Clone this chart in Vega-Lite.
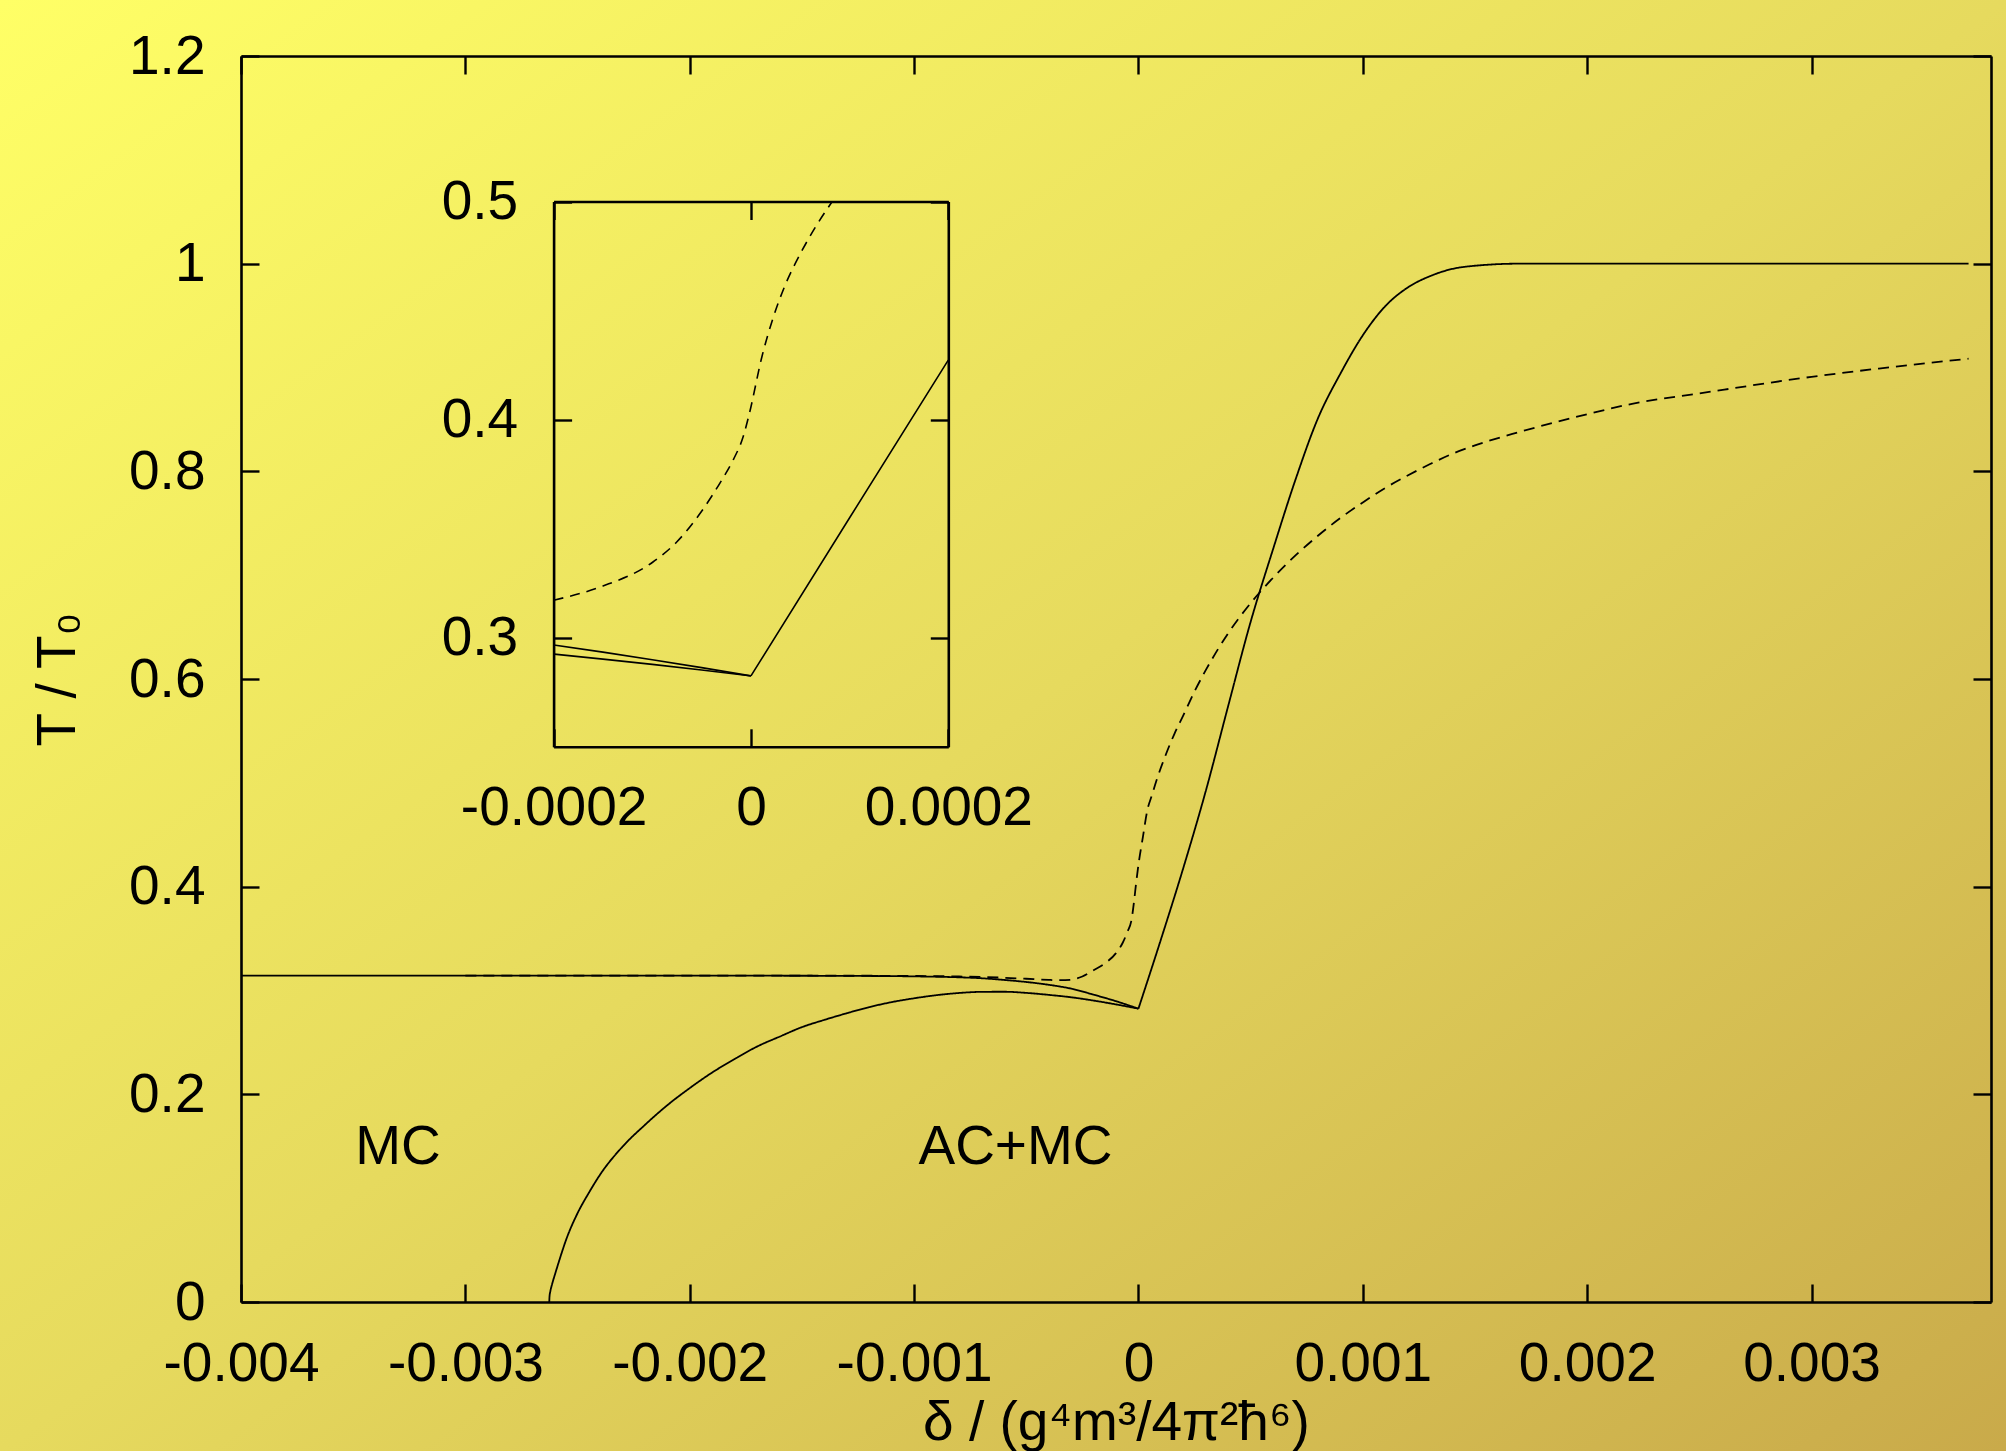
{
  "$schema": "https://vega.github.io/schema/vega-lite/v6.json",
  "width": 2006,
  "height": 1451,
  "padding": 0,
  "autosize": {"type": "none"},
  "background": "#E6DA5E",
  "config": {
    "view": {
      "stroke": null,
      "fill": {"gradient": "linear", "x1": 0, "y1": 0, "x2": 1, "y2": 1,
        "stops": [{"offset": 0, "color": "#FFFF66"}, {"offset": 0.5, "color": "#E6DA5E"}, {"offset": 1, "color": "#C9AA4A"}]}
    },
    "font": "Liberation Sans",
    "axis": {
      "grid": false,
      "domainColor": "black", "domainWidth": 2.6,
      "tickColor": "black", "tickWidth": 2.4, "tickSize": -18,
      "labelFont": "Liberation Sans", "labelFontSize": 55, "labelColor": "black",
      "labelFlush": false, "labelOverlap": false, "labelBound": false, "labelLimit": 0,
      "titleFont": "Liberation Sans", "titleFontSize": 55, "titleFontWeight": "normal", "titleColor": "black"
    },
    "axisX": {"labelPadding": 53},
    "axisY": {"labelPadding": 54}
  },
  "datasets": {
    "main": [
      {"s": "a1", "x": -0.004, "y": 0.3143}, {"s": "a1", "x": -0.003, "y": 0.3143}, {"s": "a1", "x": -0.002, "y": 0.3143},
      {"s": "a1", "x": -0.0015, "y": 0.3142}, {"s": "a1", "x": -0.0012, "y": 0.314}, {"s": "a1", "x": -0.001, "y": 0.3136},
      {"s": "a1", "x": -0.0008, "y": 0.3127}, {"s": "a1", "x": -0.0007, "y": 0.3118}, {"s": "a1", "x": -0.0006, "y": 0.3102},
      {"s": "a1", "x": -0.0005, "y": 0.3082}, {"s": "a1", "x": -0.0004, "y": 0.3055}, {"s": "a1", "x": -0.0003, "y": 0.3018},
      {"s": "a1", "x": -0.0002, "y": 0.296}, {"s": "a1", "x": -0.0001, "y": 0.2897}, {"s": "a1", "x": 0, "y": 0.2825},
      {"s": "a2", "x": 0, "y": 0.2825},
      {"s": "a2", "x": 0.0001, "y": 0.349}, {"s": "a2", "x": 0.0002, "y": 0.418}, {"s": "a2", "x": 0.0003, "y": 0.492},
      {"s": "a2", "x": 0.0004, "y": 0.574}, {"s": "a2", "x": 0.0005, "y": 0.655}, {"s": "a2", "x": 0.0006, "y": 0.725},
      {"s": "a2", "x": 0.0007, "y": 0.792}, {"s": "a2", "x": 0.0008, "y": 0.851}, {"s": "a2", "x": 0.0009, "y": 0.894},
      {"s": "a2", "x": 0.001, "y": 0.931}, {"s": "a2", "x": 0.0011, "y": 0.959}, {"s": "a2", "x": 0.0012, "y": 0.977},
      {"s": "a2", "x": 0.0013, "y": 0.988}, {"s": "a2", "x": 0.0014, "y": 0.995}, {"s": "a2", "x": 0.0015, "y": 0.998},
      {"s": "a2", "x": 0.0017, "y": 1.0}, {"s": "a2", "x": 0.0025, "y": 1.0}, {"s": "a2", "x": 0.0037, "y": 1.0},

      {"s": "b", "x": -0.002626, "y": 0}, {"s": "b", "x": -0.002625, "y": 0.005}, {"s": "b", "x": -0.002621, "y": 0.0105},
      {"s": "b", "x": -0.002613, "y": 0.0175}, {"s": "b", "x": -0.0026, "y": 0.027}, {"s": "b", "x": -0.00258, "y": 0.041},
      {"s": "b", "x": -0.00255, "y": 0.0605}, {"s": "b", "x": -0.0025, "y": 0.0855}, {"s": "b", "x": -0.00245, "y": 0.105},
      {"s": "b", "x": -0.0024, "y": 0.1225}, {"s": "b", "x": -0.0023, "y": 0.1495}, {"s": "b", "x": -0.0022, "y": 0.1705},
      {"s": "b", "x": -0.0021, "y": 0.1895}, {"s": "b", "x": -0.002, "y": 0.206}, {"s": "b", "x": -0.0019, "y": 0.221},
      {"s": "b", "x": -0.0018, "y": 0.234}, {"s": "b", "x": -0.0017, "y": 0.246}, {"s": "b", "x": -0.0016, "y": 0.2555},
      {"s": "b", "x": -0.0015, "y": 0.2647}, {"s": "b", "x": -0.0014, "y": 0.2717}, {"s": "b", "x": -0.0013, "y": 0.2781},
      {"s": "b", "x": -0.0012, "y": 0.284}, {"s": "b", "x": -0.0011, "y": 0.2888}, {"s": "b", "x": -0.001, "y": 0.2925},
      {"s": "b", "x": -0.0009, "y": 0.2955}, {"s": "b", "x": -0.0008, "y": 0.2976}, {"s": "b", "x": -0.0007, "y": 0.2987},
      {"s": "b", "x": -0.0006, "y": 0.2988}, {"s": "b", "x": -0.0005, "y": 0.2977}, {"s": "b", "x": -0.0004, "y": 0.2958},
      {"s": "b", "x": -0.0003, "y": 0.2935}, {"s": "b", "x": -0.0002, "y": 0.2903}, {"s": "b", "x": -0.0001, "y": 0.2866},
      {"s": "b", "x": 0, "y": 0.2825},

      {"s": "d", "x": -0.003, "y": 0.3143}, {"s": "d", "x": -0.002, "y": 0.3143}, {"s": "d", "x": -0.0012, "y": 0.3142},
      {"s": "d", "x": -0.001, "y": 0.314}, {"s": "d", "x": -0.0008, "y": 0.3135}, {"s": "d", "x": -0.0007, "y": 0.313},
      {"s": "d", "x": -0.0006, "y": 0.3123}, {"s": "d", "x": -0.0005, "y": 0.3113}, {"s": "d", "x": -0.0004, "y": 0.3102},
      {"s": "d", "x": -0.00035, "y": 0.3099}, {"s": "d", "x": -0.0003, "y": 0.3104}, {"s": "d", "x": -0.00025, "y": 0.3135},
      {"s": "d", "x": -0.0002, "y": 0.3195}, {"s": "d", "x": -0.00015, "y": 0.326}, {"s": "d", "x": -0.0001, "y": 0.336},
      {"s": "d", "x": -0.00007, "y": 0.346}, {"s": "d", "x": -0.00005, "y": 0.356}, {"s": "d", "x": -0.00003, "y": 0.369},
      {"s": "d", "x": -0.00002, "y": 0.385}, {"s": "d", "x": -0.00001, "y": 0.404}, {"s": "d", "x": 0, "y": 0.421},
      {"s": "d", "x": 0.00002, "y": 0.448}, {"s": "d", "x": 0.00004, "y": 0.474}, {"s": "d", "x": 0.00006, "y": 0.488},
      {"s": "d", "x": 0.00008, "y": 0.502}, {"s": "d", "x": 0.00012, "y": 0.526}, {"s": "d", "x": 0.00016, "y": 0.547},
      {"s": "d", "x": 0.0002, "y": 0.565}, {"s": "d", "x": 0.00025, "y": 0.588}, {"s": "d", "x": 0.0003, "y": 0.6085},
      {"s": "d", "x": 0.0004, "y": 0.644}, {"s": "d", "x": 0.0005, "y": 0.673}, {"s": "d", "x": 0.0006, "y": 0.6975},
      {"s": "d", "x": 0.0007, "y": 0.719}, {"s": "d", "x": 0.0008, "y": 0.738}, {"s": "d", "x": 0.0009, "y": 0.755},
      {"s": "d", "x": 0.001, "y": 0.77}, {"s": "d", "x": 0.0011, "y": 0.784}, {"s": "d", "x": 0.0012, "y": 0.796},
      {"s": "d", "x": 0.0013, "y": 0.807}, {"s": "d", "x": 0.0014, "y": 0.817}, {"s": "d", "x": 0.0015, "y": 0.825},
      {"s": "d", "x": 0.0017, "y": 0.838}, {"s": "d", "x": 0.002, "y": 0.855}, {"s": "d", "x": 0.0022, "y": 0.865},
      {"s": "d", "x": 0.0025, "y": 0.875}, {"s": "d", "x": 0.003, "y": 0.891}, {"s": "d", "x": 0.0033, "y": 0.899},
      {"s": "d", "x": 0.0037, "y": 0.9085}
    ],
    "labels": [
      {"x": -0.0033, "y": 0.149, "t": "MC"},
      {"x": -0.000548, "y": 0.149, "t": "AC+MC"}
    ],
    "inset": [
      {"s": "ia1", "x": -0.0002, "y": 0.2967}, {"s": "ia1", "x": -0.00015, "y": 0.2934}, {"s": "ia1", "x": -0.0001, "y": 0.2899},
      {"s": "ia1", "x": -0.00005, "y": 0.2863}, {"s": "ia1", "x": 0, "y": 0.2825},
      {"s": "ia2", "x": 0, "y": 0.2825}, {"s": "ia2", "x": 0.0001, "y": 0.355}, {"s": "ia2", "x": 0.0002, "y": 0.4273},
      {"s": "ib", "x": -0.0002, "y": 0.2925}, {"s": "ib", "x": -0.00015, "y": 0.2902}, {"s": "ib", "x": -0.0001, "y": 0.2878},
      {"s": "ib", "x": -0.00005, "y": 0.2852}, {"s": "ib", "x": 0, "y": 0.2825},
      {"s": "id", "x": -0.0002, "y": 0.3172}, {"s": "id", "x": -0.00015, "y": 0.3237}, {"s": "id", "x": -0.0001, "y": 0.3345},
      {"s": "id", "x": -0.000075, "y": 0.344}, {"s": "id", "x": -0.00005, "y": 0.358}, {"s": "id", "x": -0.00003, "y": 0.372},
      {"s": "id", "x": -0.0000178, "y": 0.3817}, {"s": "id", "x": -0.000008, "y": 0.392}, {"s": "id", "x": -0.0000016, "y": 0.4028},
      {"s": "id", "x": 0.0000113, "y": 0.4292}, {"s": "id", "x": 0.000022, "y": 0.446}, {"s": "id", "x": 0.0000339, "y": 0.4608},
      {"s": "id", "x": 0.00005, "y": 0.476}, {"s": "id", "x": 0.000065, "y": 0.488}, {"s": "id", "x": 0.0000824, "y": 0.5}
    ]
  },
  "resolve": {
    "scale": {"x": "independent", "y": "independent"},
    "axis": {"x": "independent", "y": "independent"}
  },
  "layer": [
    {
      "data": {"name": "main"},
      "mark": {"type": "line", "color": "black", "strokeWidth": 1.8, "clip": false, "interpolate": "monotone"},
      "encoding": {
        "x": {"field": "x", "type": "quantitative",
          "scale": {"domain": [-0.004, 0.0038], "range": [241, 1991], "nice": false, "zero": false},
          "axis": {"orient": "bottom", "offset": -149,
            "values": [-0.004, -0.003, -0.002, -0.001, 0, 0.001, 0.002, 0.003],
            "format": "~g", "labelExpr": "replace(datum.label, '−', '-')",
            "title": "δ / (g⁴m³/4π²ħ⁶)", "titlePadding": 5}},
        "y": {"field": "y", "type": "quantitative",
          "scale": {"domain": [0, 1.2], "range": [1302, 56], "nice": false, "zero": false},
          "axis": {"orient": "left", "offset": -241,
            "values": [0, 0.2, 0.4, 0.6, 0.8, 1, 1.2], "format": "~g",
            "title": "T / T₀", "titlePadding": 42}},
        "detail": {"field": "s"},
        "strokeDash": {"field": "s", "type": "nominal", "legend": null,
          "scale": {"domain": ["a1", "a2", "b", "d"], "range": [[1, 0], [1, 0], [1, 0], [11, 7]]}}
      }
    },
    {
      "data": {"name": "labels"},
      "mark": {"type": "text", "fontSize": 55, "font": "Liberation Sans", "color": "black", "align": "center", "baseline": "middle"},
      "encoding": {
        "x": {"field": "x", "type": "quantitative",
          "scale": {"domain": [-0.004, 0.0038], "range": [241, 1991], "nice": false, "zero": false},
          "axis": {"orient": "top", "offset": -56, "labels": false, "title": null,
            "values": [-0.004, -0.003, -0.002, -0.001, 0, 0.001, 0.002, 0.003]}},
        "y": {"field": "y", "type": "quantitative",
          "scale": {"domain": [0, 1.2], "range": [1302, 56], "nice": false, "zero": false},
          "axis": {"orient": "right", "offset": -15, "labels": false, "title": null,
            "values": [0, 0.2, 0.4, 0.6, 0.8, 1, 1.2]}},
        "text": {"field": "t"}
      }
    },
    {
      "data": {"name": "inset"},
      "transform": [{"filter": "datum.s === 'id'"}],
      "mark": {"type": "line", "color": "black", "strokeWidth": 1.6, "strokeDash": [10, 7], "clip": false, "interpolate": "monotone"},
      "encoding": {
        "x": {"field": "x", "type": "quantitative",
          "scale": {"domain": [-0.0002, 0.0002], "range": [553.6, 948.3], "nice": false, "zero": false},
          "axis": {"orient": "bottom", "offset": -704.2, "values": [-0.0002, 0, 0.0002],
            "format": "~g", "labelExpr": "replace(datum.label, '−', '-')", "title": null}},
        "y": {"field": "y", "type": "quantitative",
          "scale": {"domain": [0.25, 0.5], "range": [746.8, 201.5], "nice": false, "zero": false},
          "axis": {"orient": "left", "offset": -553.6, "values": [0.3, 0.4, 0.5], "format": "~g", "title": null}}
      }
    },
    {
      "data": {"name": "inset"},
      "transform": [{"filter": "datum.s !== 'id'"}],
      "mark": {"type": "line", "color": "black", "strokeWidth": 1.6, "clip": false, "interpolate": "monotone"},
      "encoding": {
        "x": {"field": "x", "type": "quantitative",
          "scale": {"domain": [-0.0002, 0.0002], "range": [553.6, 948.3], "nice": false, "zero": false},
          "axis": {"orient": "top", "offset": -201.5, "values": [-0.0002, 0, 0.0002], "labels": false, "title": null}},
        "y": {"field": "y", "type": "quantitative",
          "scale": {"domain": [0.25, 0.5], "range": [746.8, 201.5], "nice": false, "zero": false},
          "axis": {"orient": "right", "offset": -1057.7, "values": [0.3, 0.4, 0.5], "labels": false, "title": null}},
        "detail": {"field": "s"}
      }
    }
  ]
}
